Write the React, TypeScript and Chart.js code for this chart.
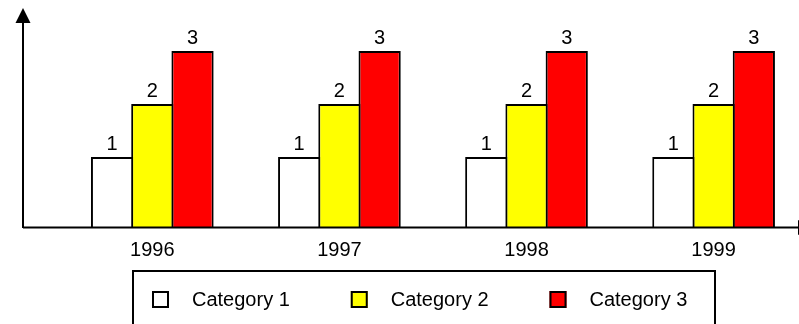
import { useEffect, useRef } from "react";
import { Chart, registerables } from "chart.js";

Chart.register(...registerables);

const years = ["1996", "1997", "1998", "1999"];
const seriesNames = ["Category 1", "Category 2", "Category 3"];
const category1 = [1, 1, 1, 1];
const category2 = [2, 2, 2, 2];
const category3 = [3, 3, 3, 3];
const seriesColors = ["#FFFFFF", "#FFFF00", "#FF0000"];

const VALUE_MIN = -0.34;
const VALUE_MAX = 3.51;
const X_MIN = -0.6911;
const X_MAX = 3.4564;
const FAMILY = '"Liberation Sans", Arial, sans-serif';
const FONT_SIZE = 20;

const decorPlugin = {
  id: "decor",
  afterDraw(chart: any) {
    const ctx = chart.ctx as CanvasRenderingContext2D;
    const { left } = chart.chartArea;
    const y0 = chart.scales.y.getPixelForValue(VALUE_MIN);
    ctx.save();
    // value labels
    ctx.font = `${FONT_SIZE}px ${FAMILY}`;
    ctx.fillStyle = "#000";
    ctx.textAlign = "center";
    ctx.textBaseline = "alphabetic";
    chart.data.datasets.forEach((ds: any, di: number) => {
      const meta = chart.getDatasetMeta(di);
      meta.data.forEach((el: any, i: number) => {
        const v = ds.data[i].y;
        ctx.fillText(String(v), el.x, el.y - 7);
      });
    });
    // axes
    ctx.strokeStyle = "#000";
    ctx.lineWidth = 2;
    ctx.beginPath();
    ctx.moveTo(left, y0);
    ctx.lineTo(left, 20);
    ctx.moveTo(left, y0 - 0.5);
    ctx.lineTo(805, y0 - 0.5);
    ctx.stroke();
    ctx.fillStyle = "#000";
    ctx.beginPath();
    ctx.moveTo(left, 8);
    ctx.lineTo(left - 7.5, 23);
    ctx.lineTo(left + 7.5, 23);
    ctx.closePath();
    ctx.fill();
    ctx.beginPath();
    ctx.moveTo(813, y0 - 0.5);
    ctx.lineTo(798, y0 - 8);
    ctx.lineTo(798, y0 + 7);
    ctx.closePath();
    ctx.fill();
    // legend box
    ctx.lineWidth = 2;
    ctx.strokeRect(133, 271, 582, 80);
    const step = 198.75;
    ctx.textAlign = "left";
    chart.data.datasets.forEach((ds: any, di: number) => {
      const x = 152 + di * step;
      ctx.fillStyle = ds.backgroundColor;
      ctx.fillRect(x, 291, 17, 17);
      ctx.lineWidth = 2;
      ctx.strokeStyle = "#000";
      ctx.strokeRect(x + 1, 292, 15, 15);
      ctx.fillStyle = "#000";
      ctx.fillText(ds.label, x + 40, 306);
    });
    ctx.restore();
  },
};

export default function App() {
  const ref = useRef<HTMLCanvasElement | null>(null);
  useEffect(() => {
    if (!ref.current) return;
    const series = [category1, category2, category3];
    const chart = new Chart(ref.current, {
      type: "bar",
      data: {
        datasets: series.map((vals, si) => ({
          label: seriesNames[si],
          data: vals.map((v, i) => ({ x: i, y: v })),
          backgroundColor: seriesColors[si],
          borderColor: "#000000",
          borderWidth: 2,
          base: VALUE_MIN,
          categoryPercentage: 0.645,
          barPercentage: 1.05,
        })) as any,
      },
      options: {
        responsive: false,
        animation: false,
        events: [],
        layout: { padding: { left: 23, right: 0, top: 24, bottom: 56 } },
        plugins: { legend: { display: false }, tooltip: { enabled: false } },
        scales: {
          x: {
            type: "linear",
            offset: false,
            min: X_MIN,
            max: X_MAX,
            grid: { display: false, drawTicks: false, offset: false },
            border: { display: false },
            afterBuildTicks: (s: any) => {
              s.ticks = years.map((_, i) => ({ value: i }));
            },
            afterFit: (s: any) => {
              s.height = 40;
            },
            ticks: {
              padding: 10,
              autoSkip: false,
              maxRotation: 0,
              color: "#000",
              font: { size: FONT_SIZE, family: FAMILY },
              callback: (v: any) => years[v] ?? "",
            },
          },
          y: { display: false, min: VALUE_MIN, max: VALUE_MAX },
        },
      } as any,
      plugins: [decorPlugin],
    });
    return () => chart.destroy();
  }, []);
  return (
    <div style={{ position: "fixed", left: 0, top: 0, width: 799, height: 324, background: "#fff" }}>
      <canvas ref={ref} width={799} height={324} style={{ display: "block" }} />
    </div>
  );
}
